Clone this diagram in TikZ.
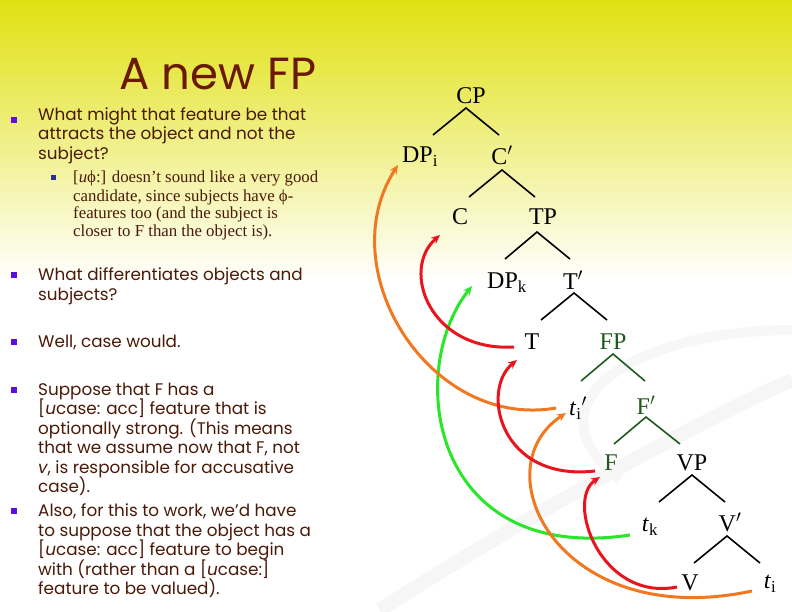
\documentclass[tikz,border=0pt]{standalone}
\usepackage{fontspec}
\setmainfont{Liberation Serif}
\newfontfamily\gothic{Poppins}
\newfontfamily\serifx{Liberation Serif}
\usetikzlibrary{arrows.meta}
\definecolor{brn}{HTML}{4A1A08}
\definecolor{ttl}{HTML}{6A1A04}
\definecolor{bul}{HTML}{5A10E0}
\definecolor{bulb}{HTML}{303090}
\definecolor{dgr}{HTML}{1E5A1E}
\definecolor{ared}{HTML}{E8141E}
\definecolor{agrn}{HTML}{28E628}
\definecolor{aorg}{HTML}{F07820}
\begin{document}
\begin{tikzpicture}[x=1pt,y=-1pt,
  lab/.style={font=\serifx\fontsize{24}{24}\selectfont,inner sep=0pt},
  glab/.style={lab,text=dgr},
  br/.style={line width=1.6pt},
  gbr/.style={br,draw=dgr},
  mv/.style={line width=3pt,-{Stealth[length=9pt,width=8pt]}},
  tx/.style={anchor=base west,inner sep=0pt,text=brn,font=\gothic\fontsize{16.8}{17}\selectfont},
  stx/.style={anchor=base west,inner sep=0pt,text=brn,font=\serifx\fontsize{16.8}{17}\selectfont},
  bsq/.style={fill=bul,minimum size=6pt,inner sep=0pt},
  ssq/.style={fill=bulb,minimum size=5pt,inner sep=0pt}]
\useasboundingbox (0,0) rectangle (792,612);
\shade[top color={rgb,255:red,224;green,224;blue,16},middle color={rgb,255:red,236;green,236;blue,140},bottom color=white] (0,0) rectangle (792,280);
\fill[white] (0,280) rectangle (792,612);
% faint swooshes
\draw[gray!7,line width=14pt] (380,610) .. controls (520,520) and (700,420) .. (792,380);
\draw[gray!6,line width=10pt] (620,480) .. controls (520,400) and (640,330) .. (792,330);
% title
\node[anchor=base,text=ttl,font=\gothic\fontsize{45}{45}\selectfont,inner sep=0pt] (title) at (218,90) {A new FP};
% bullets
\node[bsq] (q1) at (14,120) {};
\node[tx] (l1) at (38,121) {What might that feature be that};
\node[tx] (l2) at (38,140) {attracts the object and not the};
\node[tx] (l3) at (38,160) {subject?};
\node[ssq] (s1) at (53,178) {};
\node[stx] (m1) at (73,183) {[\textit{u}ϕ:] doesn’t sound like a very good};
\node[stx] (m2) at (73,202) {candidate, since subjects have ϕ-};
\node[stx] (m3) at (73,219) {features too (and the subject is};
\node[stx] (m4) at (73,237) {closer to F than the object is).};
\node[bsq] (q2) at (14,275) {};
\node[tx] (l4) at (38,280) {What differentiates objects and};
\node[tx] (l5) at (38,300) {subjects?};
\node[bsq] (q3) at (14,342) {};
\node[tx] (l6) at (38,347) {Well, case would.};
\node[bsq] (q4) at (14,390) {};
\node[tx] (l7) at (38,395) {Suppose that F has a};
\node[tx] (l8) at (38,414) {[\textit{u}case: acc] feature that is};
\node[tx] (l9) at (38,434) {optionally strong. (This means};
\node[tx] (l10) at (38,453) {that we assume now that F, not};
\node[tx] (l11) at (38,473) {\textit{v}, is responsible for accusative};
\node[tx] (l12) at (38,492) {case).};
\node[bsq] (q5) at (14,511) {};
\node[tx] (l13) at (38,516) {Also, for this to work, we’d have};
\node[tx] (l14) at (38,536) {to suppose that the object has a};
\node[tx] (l15) at (38,555) {[\textit{u}case: acc] feature to begin};
\node[tx] (l16) at (38,575) {with (rather than a [\textit{u}case:]};
\node[tx] (l17) at (38,594) {feature to be valued).};
% tree
\node[lab] (CP) at (471,96) {CP};
\node[lab] (DPi) at (420,157) {DP\textsubscript{i}};
\node[lab] (Cb) at (502,155) {C$'$};
\node[lab] (C) at (460,217) {C};
\node[lab] (TP) at (543,217) {TP};
\node[lab] (DPk) at (507,283) {DP\textsubscript{k}};
\node[lab] (Tb) at (573,280) {T$'$};
\node[lab] (T) at (532,342) {T};
\node[glab] (FP) at (613,342) {FP};
\node[lab] (tii) at (578,408) {\textit{t}\textsubscript{i}$'$};
\node[glab] (Fb) at (646,405) {F$'$};
\node[glab] (F) at (611,463) {F};
\node[lab] (VP) at (692,463) {VP};
\node[lab] (tk) at (650,527) {\textit{t}\textsubscript{k}};
\node[lab] (Vb) at (730,522) {V$'$};
\node[lab] (V) at (690,583) {V};
\node[lab] (ti) at (770,584) {\textit{t}\textsubscript{i}};
\foreach \p/\a/\b/\x/\y/\l/\r in {CP/DPi/Cb/466/108/433/499, Cb/C/TP/502/170/469/535, TP/DPk/Tb/537/232/505/570, Tb/T/FP/574/293/541/607, VP/tk/Vb/692/475/659/725, Vb/V/ti/727/536/694/760}{
  \coordinate (\p-top) at (\x,\y);
  \coordinate (\a-up) at (\l,\y+27);
  \coordinate (\b-up) at (\r,\y+27);
  \draw[br] (\a-up) -- (\p-top) -- (\b-up);}
\foreach \p/\a/\b/\x/\y/\l/\r in {FP/tii/Fb/613/354/581/645, Fb/F/VP/646/417/614/680}{
  \coordinate (\p-top) at (\x,\y);
  \coordinate (\a-up) at (\l,\y+27);
  \coordinate (\b-up) at (\r,\y+27);
  \draw[gbr] (\a-up) -- (\p-top) -- (\b-up);}
% movement arrows
\coordinate (r1s) at (514,347); \coordinate (r1e) at (440,235);
\coordinate (g1s) at (630,535); \coordinate (g1e) at (472,286);
\coordinate (o1s) at (556,408); \coordinate (o1e) at (398,165);
\coordinate (r2s) at (595,471); \coordinate (r2e) at (517,360);
\coordinate (o2s) at (752,591); \coordinate (o2e) at (566,413);
\coordinate (r3s) at (677,587); \coordinate (r3e) at (600,477);
\draw[mv,draw=agrn,-{Stealth[length=9pt,width=8pt,fill=agrn]}] (g1s) .. controls (430,565) and (405,370) .. (g1e);
\draw[mv,draw=aorg] (o1s) .. controls (430,430) and (330,270) .. (o1e);
\draw[mv,draw=ared] (r1s) .. controls (430,352) and (400,270) .. (r1e);
\draw[mv,draw=aorg] (o2s) .. controls (560,632) and (480,470) .. (o2e);
\draw[mv,draw=ared] (r2s) .. controls (500,482) and (480,390) .. (r2e);
\draw[mv,draw=ared] (r3s) .. controls (600,602) and (565,500) .. (r3e);
\end{tikzpicture}
\end{document}
